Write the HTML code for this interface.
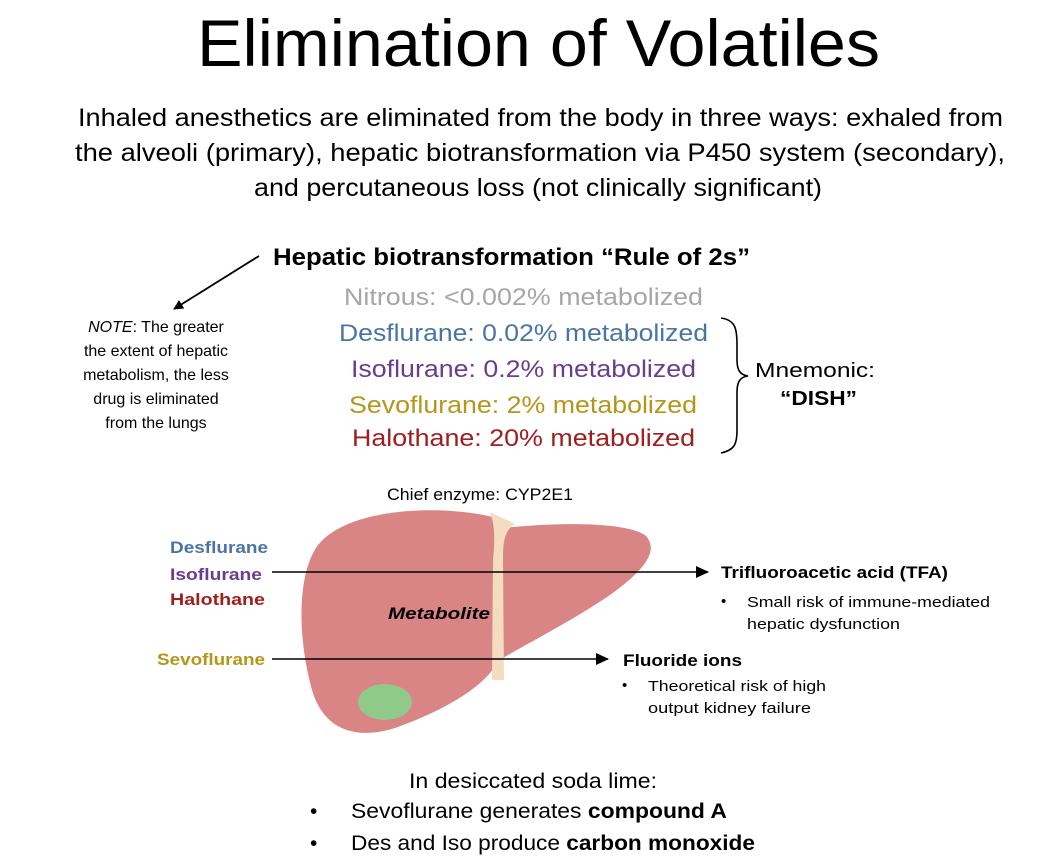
<!DOCTYPE html>
<html><head><meta charset="utf-8"><style>
html,body{margin:0;padding:0;background:#fff;}
svg{display:block;}
text{font-family:"Liberation Sans",sans-serif;}
</style></head><body>
<svg width="1049" height="865" viewBox="0 0 1049 865" xmlns="http://www.w3.org/2000/svg">
<defs>
<marker id="ah" markerWidth="10" markerHeight="10" refX="9" refY="5" orient="auto" markerUnits="userSpaceOnUse"><path d="M0,0 L10,5 L0,10 Z" fill="#000"/></marker>
<marker id="ah2" markerWidth="14" markerHeight="12" refX="12" refY="6" orient="auto" markerUnits="userSpaceOnUse"><path d="M0,0 L13,6 L0,12 Z" fill="#000"/></marker>
</defs>
<text x="197" y="66" font-size="66" textLength="683" lengthAdjust="spacingAndGlyphs">Elimination of Volatiles</text>
<text x="78" y="126" font-size="25" textLength="925" lengthAdjust="spacingAndGlyphs">Inhaled anesthetics are eliminated from the body in three ways: exhaled from</text>
<text x="75" y="161" font-size="25" textLength="930" lengthAdjust="spacingAndGlyphs">the alveoli (primary), hepatic biotransformation via P450 system (secondary),</text>
<text x="254" y="196" font-size="25" textLength="568" lengthAdjust="spacingAndGlyphs">and percutaneous loss (not clinically significant)</text>

<text x="273" y="265" font-size="24" font-weight="bold" textLength="477" lengthAdjust="spacingAndGlyphs">Hepatic biotransformation “Rule of 2s”</text>
<line x1="259" y1="256" x2="174" y2="309" stroke="#000" stroke-width="1.8" marker-end="url(#ah)"/>
<g font-size="24">
<text x="344" y="305" fill="#a6a6a6" textLength="359" lengthAdjust="spacingAndGlyphs">Nitrous: &lt;0.002% metabolized</text>
<text x="339" y="341" fill="#4b74a6" textLength="369" lengthAdjust="spacingAndGlyphs">Desflurane: 0.02% metabolized</text>
<text x="351" y="377" fill="#6a3d8e" textLength="345" lengthAdjust="spacingAndGlyphs">Isoflurane: 0.2% metabolized</text>
<text x="349" y="413" fill="#b5961a" textLength="348" lengthAdjust="spacingAndGlyphs">Sevoflurane: 2% metabolized</text>
<text x="352" y="446" fill="#a11e1e" textLength="343" lengthAdjust="spacingAndGlyphs">Halothane: 20% metabolized</text>
</g>
<path d="M721,318 C736,320 737,330 737,345 L737,360 C737,370 740,375 748,376 C740,377 737,382 737,392 L737,430 C737,445 734,450 721,453" fill="none" stroke="#000" stroke-width="1.6"/>
<text x="755" y="377" font-size="20" textLength="120" lengthAdjust="spacingAndGlyphs">Mnemonic:</text>
<text x="780" y="405" font-size="20" font-weight="bold" textLength="77" lengthAdjust="spacingAndGlyphs">“DISH”</text>

<g font-size="16" text-anchor="middle">
<text x="156" y="332"><tspan font-style="italic">NOTE</tspan>: The greater</text>
<text x="156" y="356">the extent of hepatic</text>
<text x="156" y="380">metabolism, the less</text>
<text x="156" y="404">drug is eliminated</text>
<text x="156" y="428">from the lungs</text>
</g>

<!-- liver -->
<path d="M496,518 C450,505 350,505 318,545 C296,575 298,640 312,690 C322,725 350,742 395,728 C440,712 480,690 496,665 Z" fill="#d98585"/>
<path d="M503,528 C560,522 625,522 645,535 C660,550 645,570 610,595 C570,622 530,642 503,658 Z" fill="#d98585"/>
<path d="M490,512 C495,525 495,540 493,560 L492,680 L504,680 L503,560 C503,540 505,530 515,524 Z" fill="#f3dcc0"/>
<ellipse cx="385" cy="702" rx="27" ry="18" fill="#8fca8b"/>
<text x="387" y="500" font-size="17" textLength="186" lengthAdjust="spacingAndGlyphs">Chief enzyme: CYP2E1</text>
<text x="388" y="619" font-size="17" font-weight="bold" font-style="italic" textLength="102" lengthAdjust="spacingAndGlyphs">Metabolite</text>

<g font-size="17" font-weight="bold">
<text x="170" y="553" fill="#4b74a6" textLength="98" lengthAdjust="spacingAndGlyphs">Desflurane</text>
<text x="170" y="580" fill="#6a3d8e" textLength="92" lengthAdjust="spacingAndGlyphs">Isoflurane</text>
<text x="170" y="605" fill="#a11e1e" textLength="95" lengthAdjust="spacingAndGlyphs">Halothane</text>
<text x="157" y="665" fill="#b5961a" textLength="108" lengthAdjust="spacingAndGlyphs">Sevoflurane</text>
<text x="721" y="578" fill="#000" textLength="227" lengthAdjust="spacingAndGlyphs">Trifluoroacetic acid (TFA)</text>
<text x="623" y="666" fill="#000" textLength="119" lengthAdjust="spacingAndGlyphs">Fluoride ions</text>
</g>
<line x1="272" y1="572" x2="708" y2="572" stroke="#000" stroke-width="1.6" marker-end="url(#ah2)"/>
<line x1="272" y1="659" x2="608" y2="659" stroke="#000" stroke-width="1.6" marker-end="url(#ah2)"/>
<g font-size="15">
<text x="721" y="606">•</text>
<text x="747" y="607" textLength="243" lengthAdjust="spacingAndGlyphs">Small risk of immune-mediated</text>
<text x="747" y="629" textLength="153" lengthAdjust="spacingAndGlyphs">hepatic dysfunction</text>
<text x="622" y="690">•</text>
<text x="648" y="691" textLength="178" lengthAdjust="spacingAndGlyphs">Theoretical risk of high</text>
<text x="648" y="713" textLength="163" lengthAdjust="spacingAndGlyphs">output kidney failure</text>
</g>

<g font-size="21">
<text x="409" y="788" textLength="248" lengthAdjust="spacingAndGlyphs">In desiccated soda lime:</text>
<text x="310" y="818">•</text>
<text x="351" y="818" textLength="376" lengthAdjust="spacingAndGlyphs">Sevoflurane generates <tspan font-weight="bold">compound A</tspan></text>
<text x="310" y="850">•</text>
<text x="351" y="850" textLength="404" lengthAdjust="spacingAndGlyphs">Des and Iso produce <tspan font-weight="bold">carbon monoxide</tspan></text>
</g>
</svg>
</body></html>
